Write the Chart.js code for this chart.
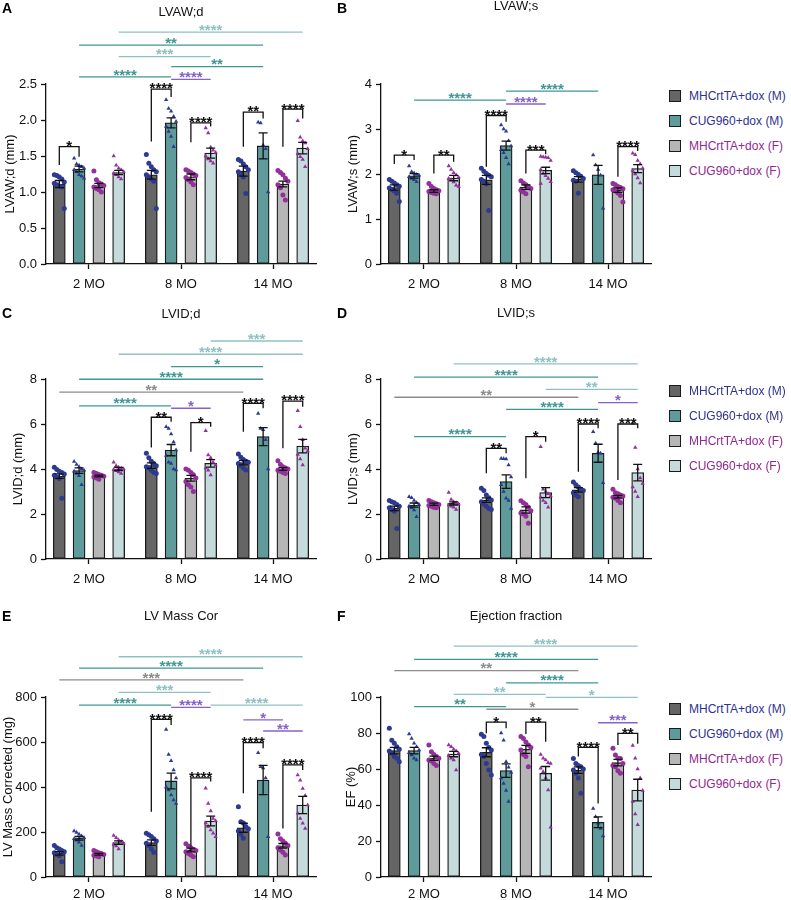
<!DOCTYPE html>
<html><head><meta charset="utf-8">
<script src="https://cdn.jsdelivr.net/npm/chart.js@4.4.0/dist/chart.umd.min.js"></script>
<style>
html,body{margin:0;padding:0;background:#fff;width:791px;height:900px;overflow:hidden;position:relative;font-family:'Liberation Sans',Arial,sans-serif;}
canvas{position:absolute;}
.letter{position:absolute;font-weight:bold;font-size:14px;line-height:14px;color:#000;}
.lg{position:absolute;left:669px;height:14px;white-space:nowrap;font-size:12px;line-height:12px;}
.lg i{position:absolute;left:0;top:0;width:12px;height:12px;box-sizing:border-box;border:1.4px solid #1a1a1a;}
.lg span{position:absolute;left:20px;top:0px;}
</style></head>
<body>
<script>
const FONT = "'Liberation Sans', Arial, sans-serif";
const categories = ['2 MO', '8 MO', '14 MO'];
const seriesNames = ['MHCrtTA+dox (M)', 'CUG960+dox (M)', 'MHCrtTA+dox (F)', 'CUG960+dox (F)'];

// ---- Panel A: LVAW;d (series rows: MHC M, CUG M, MHC F, CUG F; columns: 2, 8, 14 MO)
const lvawdMean = [[1.11, 1.24, 1.29], [1.32, 1.96, 1.64], [1.09, 1.21, 1.11], [1.27, 1.54, 1.61]];
const lvawdSem = [[0.05, 0.06, 0.07], [0.04, 0.07, 0.18], [0.03, 0.04, 0.04], [0.03, 0.07, 0.08]];
const lvawdPts = [
  [[1.24,1.23,1.21,1.18,1.14,1.12,1.1,1.08,1.07,0.77],[1.52,1.4,1.35,1.31,1.28,1.24,1.21,1.18,1.15,0.77],[1.45,1.43,1.39,1.35,1.31,1.28,1.25,1.21,0.98]],
  [[1.47,1.39,1.37,1.35,1.33,1.31,1.28,1.24,1.22,1.19],[2.28,2.16,2.12,2.05,1.98,1.91,1.84,1.77,1.63],[1.97,1.96,1.65,1.6,1.0]],
  [[1.29,1.17,1.13,1.11,1.09,1.07,1.05,1.03,1.0],[1.31,1.29,1.27,1.25,1.23,1.2,1.17,1.14,1.1],[1.3,1.27,1.24,1.19,1.15,1.1,1.06,0.96,0.89]],
  [[1.5,1.37,1.33,1.31,1.28,1.26,1.24,1.21,1.18],[1.89,1.82,1.62,1.58,1.55,1.5,1.46,1.43,1.4],[1.99,1.76,1.71,1.68,1.6,1.53,1.49,1.45,1.35]]
];
// comparison lines: [series1, cat1, series2, cat2, level, label]
const lvawdLines = [[3,0,3,2,3.22,'****'],[1,0,1,2,3.04,'**'],[3,0,3,1,2.88,'***'],[1,1,1,2,2.74,'**'],[1,0,1,1,2.60,'****'],[1,1,3,1,2.565,'****']];
// brackets: [cat, seriesLeft, seriesRight, top, leftLegEnd, rightLegEnd, label]
const lvawdBrackets = [[0,0,1,1.63,1.375,1.49,'*'],[1,0,1,2.43,1.70,2.32,'****'],[1,2,3,1.96,1.69,1.91,'****'],[2,0,1,2.11,1.63,2.02,'**'],[2,2,3,2.15,1.63,2.02,'****']];

// ---- Panel B: LVAW;s
const lvawsMean = [[1.70, 1.87, 1.88], [1.96, 2.63, 1.98], [1.62, 1.71, 1.64], [1.91, 2.08, 2.12]];
const lvawsSem = [[0.06, 0.10, 0.06], [0.05, 0.10, 0.21], [0.03, 0.05, 0.05], [0.06, 0.07, 0.09]];
const lvawsPts = [
  [[1.88,1.84,1.8,1.76,1.73,1.69,1.66,1.62,1.57,1.39],[2.13,2.06,2.01,1.97,1.94,1.88,1.84,1.78,1.19],[2.07,2.03,1.99,1.95,1.9,1.86,1.84,1.57]],
  [[2.18,2.05,2.02,1.99,1.97,1.94,1.9,1.87,1.83],[3.09,3.0,2.95,2.74,2.62,2.54,2.47,2.36,2.22],[2.42,2.2,2.1,1.97,1.24]],
  [[1.79,1.72,1.68,1.65,1.63,1.61,1.59,1.57,1.56],[1.85,1.8,1.76,1.72,1.68,1.64,1.6,1.56],[1.79,1.76,1.72,1.7,1.67,1.65,1.62,1.58,1.52,1.38]],
  [[2.18,2.1,2.03,1.98,1.93,1.9,1.87,1.82,1.75,1.72],[2.39,2.38,2.37,2.36,2.3,2.1,2.01,1.96,1.9,1.83,1.79],[2.46,2.43,2.3,2.22,2.13,2.08,2.0,1.91,1.8]]
];
const lvawsLines = [[1,1,1,2,3.84,'****'],[1,0,1,1,3.64,'****'],[1,1,3,1,3.556,'****']];
const lvawsBrackets = [[0,0,1,2.42,2.22,2.31,'*'],[0,2,3,2.42,2.01,2.27,'**'],[1,0,1,3.30,2.16,3.16,'****'],[1,2,3,2.53,2.01,2.44,'***'],[2,2,3,2.61,1.94,2.51,'****']];

// ---- Panel C: LVID;d
const lviddMean = [[3.68, 4.15, 4.28], [3.93, 4.84, 5.44], [3.69, 3.59, 4.00], [4.00, 4.25, 5.02]];
const lviddSem = [[0.10, 0.12, 0.10], [0.12, 0.25, 0.40], [0.04, 0.13, 0.06], [0.07, 0.17, 0.30]];
const lviddPts = [
  [[4.08,3.98,3.9,3.84,3.78,3.72,3.65,3.58,2.7],[4.7,4.5,4.35,4.25,4.15,4.1,4.05,3.95,3.85,3.8],[4.67,4.52,4.42,4.35,4.3,4.25,4.15,4.05,3.96]],
  [[4.33,4.2,4.1,4.0,3.95,3.9,3.8,3.7,3.3],[5.88,5.8,5.56,5.2,4.85,4.6,4.3,4.25,4.0,3.96],[6.47,5.8,5.75,5.3,4.0]],
  [[3.85,3.8,3.76,3.72,3.68,3.64,3.6,3.55],[4.0,3.95,3.85,3.75,3.6,3.45,3.3,3.2,3.0],[4.37,4.2,4.1,4.05,4.0,3.95,3.9,3.85,3.8]],
  [[4.3,4.15,4.08,4.03,4.0,3.98,3.92,3.87,3.8],[5.7,4.62,4.5,4.3,4.18,4.05,3.95,3.73],[6.59,5.88,5.3,4.92,4.8,4.65,4.45,4.18]]
];
const lviddLines = [[3,1,3,2,9.69,'***'],[3,0,3,2,9.10,'****'],[1,1,1,2,8.55,'*'],[1,0,1,2,7.99,'****'],[0,0,0,2,7.42,'**'],[1,0,1,1,6.81,'****'],[1,1,3,1,6.70,'*']];
const lviddBrackets = [[1,0,1,6.3,4.96,6.1,'**'],[1,2,3,6.06,4.77,5.88,'*'],[2,0,1,6.92,5.66,6.7,'****'],[2,2,3,7.02,4.92,6.77,'****']];

// ---- Panel D: LVID;s
const lvidsMean = [[2.25, 2.62, 3.07], [2.40, 3.44, 4.70], [2.43, 2.18, 2.77], [2.47, 2.95, 3.84]];
const lvidsSem = [[0.10, 0.10, 0.10], [0.09, 0.30, 0.40], [0.05, 0.14, 0.06], [0.07, 0.22, 0.37]];
const lvidsPts = [
  [[2.6,2.55,2.5,2.42,2.35,2.28,2.2,2.12,1.36],[3.14,3.05,2.85,2.72,2.62,2.55,2.45,2.35,2.25,2.2],[3.42,3.3,3.2,3.1,3.05,2.95,2.85,2.77]],
  [[2.77,2.72,2.6,2.5,2.42,2.35,2.28,2.18,1.88],[4.47,4.46,4.45,4.18,3.65,3.3,3.0,2.7,2.6,2.25],[5.66,5.14,4.75,4.7,3.39]],
  [[2.6,2.55,2.5,2.46,2.42,2.38,2.34,2.3,2.28],[2.59,2.5,2.42,2.3,2.15,2.05,2.0,1.9,1.59],[3.1,2.95,2.9,2.85,2.8,2.75,2.7,2.6,2.5]],
  [[2.96,2.65,2.55,2.5,2.45,2.4,2.35,2.3,2.2],[4.99,3.1,3.0,2.9,2.8,2.75,2.6,2.5,2.3],[6.03,4.96,4.0,3.6,3.36,3.2,3.0,2.77]]
];
const lvidsLines = [[3,0,3,2,8.67,'****'],[1,0,1,2,8.08,'****'],[3,1,3,2,7.54,'**'],[0,0,0,2,7.19,'**'],[1,2,3,2,6.95,'*'],[1,1,1,2,6.65,'****'],[1,0,1,1,5.44,'****']];
const lvidsBrackets = [[1,0,1,4.92,3.81,4.7,'**'],[1,2,3,5.44,3.59,5.21,'*'],[2,0,1,6.0,3.88,5.81,'****'],[2,2,3,6.0,3.51,5.81,'***']];

// ---- Panel E: LV Mass Cor
const lvmMean = [[105, 153, 219], [172, 427, 431], [101, 120, 139], [153, 249, 320]];
const lvmSem = [[8, 12, 20], [8, 35, 65], [4, 8, 10], [8, 22, 38]];
const lvmPts = [
  [[140,130,125,118,112,108,100,95,68],[195,188,180,170,160,150,140,125,110],[312,246,240,225,215,205,190,172]],
  [[205,198,190,182,175,170,163,155,140],[656,545,517,476,440,400,387,364,342,327],[552,490,485,440,179]],
  [[118,112,108,104,100,97,93,90],[148,138,130,122,118,112,105,98,90],[191,170,160,150,140,130,120,110,98]],
  [[185,175,165,158,150,145,138,125],[394,327,293,260,250,240,225,209,195,179],[453,430,393,362,320,283,260,239,216]]
];
const lvmLines = [[3,0,3,2,979,'****'],[1,0,1,2,928,'****'],[0,0,0,2,876,'***'],[3,0,3,1,821,'***'],[1,0,1,1,764,'****'],[1,1,3,1,754,'****'],[3,1,3,2,764,'****'],[0,2,2,2,698,'*'],[1,2,3,2,649,'**']];
const lvmBrackets = [[1,0,1,701,290,676,'****'],[1,2,3,441,135,424,'****'],[2,0,1,597,372,572,'****'],[2,2,3,498,216,476,'****']];

// ---- Panel F: Ejection fraction
const efMean = [[70.2, 69.3, 59.4], [70.2, 59.1, 30.4], [66.0, 70.9, 63.5], [68.3, 57.6, 48.3]];
const efSem = [[1.8, 2.5, 1.8], [1.8, 3.8, 3.0], [1.2, 2.2, 1.8], [1.5, 3.8, 6.0]];
const efPts = [
  [[82.6,76,74.3,72.4,71,70,68.7,67,66,64],[79.3,78,74.3,72,70.6,68,66.9,63.1,59.4,56.7],[65.9,63,62,61.3,60,59.4,57.6,55,46.5]],
  [[79.4,77,74.3,72.4,70.6,69,67.8,66,65],[80,76,64,61,58,55,52,48,42],[38.1,33.5,29.8,27,22.8]],
  [[73.3,69.6,68,67,66,65,64.5,63,62],[78,77,75,73.3,72,70.6,68,66.9,61.3],[71.5,67.8,66,65.9,63.1,62,61.3,59,57.6]],
  [[73.3,72.4,71,70,68.7,67.5,66,65,59.4],[68,66,65,63.5,63,60.4,58.5,55,48.3,27.6],[73,66,60,55,48,42,35,29]]
];
const efLines = [[3,0,3,2,128.3,'****'],[1,0,1,2,120.9,'****'],[0,0,0,2,114.6,'**'],[1,1,1,2,107.9,'****'],[3,0,3,1,101.5,'**'],[3,1,3,2,99.8,'*'],[1,0,1,1,94.6,'**'],[0,1,0,2,93.2,'*'],[1,2,3,2,85.7,'***']];
const efBrackets = [[1,0,1,86,79.8,82.6,'*'],[1,2,3,86,79.4,75.2,'**'],[2,0,1,72,66.9,40.9,'****'],[2,2,3,79.8,73.3,74,'**']];

// ---- styles
const barColors = ['#656565', '#5e9b9a', '#b6b6b6', '#c4dadb'];
const pointColors = ['#2c3a92', '#2c3a92', '#93309b', '#93309b'];
const pointShapes = ['circle', 'triangle', 'circle', 'triangle'];
const lineColors = ['#8c8c8c', '#3f9794', '#b0b0b0', '#8fc1c3'];
const mfColor = '#8462c8';
const legendText = ['#2e3192', '#2e3192', '#92278f', '#92278f'];
const SLOT = 0.215;
const xOf = (c, s) => c + (s - 1.5) * SLOT;

const panels = [
  {letter:'A', left:0, top:0, h:300, plotTop:84, titleC:12.5, yPad:3, xPad:8, title:'LVAW;d', yTitle:'LVAW;d (mm)', min:0, max:2.5, step:0.5, dec:1, mean:lvawdMean, sem:lvawdSem, pts:lvawdPts, lines:lvawdLines, brackets:lvawdBrackets},
  {letter:'B', left:335, top:0, h:300, plotTop:84, titleC:6.5, yPad:11, xPad:8, title:'LVAW;s', yTitle:'LVAW;s (mm)', min:0, max:4, step:1, dec:0, mean:lvawsMean, sem:lvawsSem, pts:lvawsPts, lines:lvawsLines, brackets:lvawsBrackets},
  {letter:'C', left:0, top:290, h:305, plotTop:89, titleC:24, yPad:11, xPad:8, title:'LVID;d', yTitle:'LVID;d (mm)', min:0, max:8, step:2, dec:0, mean:lviddMean, sem:lviddSem, pts:lviddPts, lines:lviddLines, brackets:lviddBrackets},
  {letter:'D', left:335, top:290, h:305, plotTop:89, titleC:23, yPad:10.5, xPad:8, title:'LVID;s', yTitle:'LVID;s (mm)', min:0, max:8, step:2, dec:0, mean:lvidsMean, sem:lvidsSem, pts:lvidsPts, lines:lvidsLines, brackets:lvidsBrackets},
  {letter:'E', left:0, top:600, h:313, plotTop:97, titleC:16, yPad:0.5, xPad:5, title:'LV Mass Cor', yTitle:'LV Mass Corrected (mg)', min:0, max:800, step:200, dec:0, mean:lvmMean, sem:lvmSem, pts:lvmPts, lines:lvmLines, brackets:lvmBrackets},
  {letter:'F', left:335, top:600, h:313, plotTop:97, titleC:16, yPad:9, xPad:5, title:'Ejection fraction', yTitle:'EF (%)', min:0, max:100, step:20, dec:0, mean:efMean, sem:efSem, pts:efPts, lines:efLines, brackets:efBrackets}
];
const letterTops = {A:1, B:1, C:306, D:306, E:609, F:609};
const legendTops = [0, 295, 613];

function annot(p) {
  return {
    id: 'annot',
    afterDatasetsDraw(chart) {
      const ctx = chart.ctx, xs = chart.scales.x, ys = chart.scales.y;
      const X = (c, s) => xs.getPixelForValue(xOf(c, s));
      const Y = v => ys.getPixelForValue(v);
      ctx.save();
      ctx.lineWidth = 1.3;
      ctx.lineJoin = 'miter';
      ctx.strokeStyle = '#111';
      for (let s = 0; s < 4; s++) for (let c = 0; c < 3; c++) {
        const x = X(c, s), m = p.mean[s][c], e = p.sem[s][c];
        const y1 = Y(m + e), y2 = Y(m - e);
        ctx.beginPath();
        ctx.moveTo(x, y1); ctx.lineTo(x, y2);
        ctx.moveTo(x - 4.5, y1); ctx.lineTo(x + 4.5, y1);
        ctx.moveTo(x - 4.5, y2); ctx.lineTo(x + 4.5, y2);
        ctx.stroke();
      }
      ctx.font = 'bold 15px ' + FONT;
      ctx.textAlign = 'center';
      ctx.textBaseline = 'alphabetic';
      p.brackets.forEach(([c, sl, sr, top, lb, rb, lab]) => {
        const xl = X(c, sl), xr = X(c, sr), yt = Y(top);
        ctx.strokeStyle = '#111';
        ctx.beginPath();
        ctx.moveTo(xl, Y(lb)); ctx.lineTo(xl, yt); ctx.lineTo(xr, yt); ctx.lineTo(xr, Y(rb));
        ctx.stroke();
        ctx.fillStyle = '#111';
        ctx.fillText(lab, (xl + xr) / 2, yt + 4.4);
      });
      p.lines.forEach(([s1, c1, s2, c2, v, lab]) => {
        const col = s1 === s2 ? lineColors[s1] : mfColor;
        const x1 = X(c1, s1), x2 = X(c2, s2), y = Y(v);
        ctx.strokeStyle = col;
        ctx.beginPath(); ctx.moveTo(x1, y); ctx.lineTo(x2, y); ctx.stroke();
        ctx.fillStyle = col;
        ctx.fillText(lab, (x1 + x2) / 2, y + 2.7);
      });
      ctx.restore();
    }
  };
}

function makePanel(p) {
  const cv = document.createElement('canvas');
  cv.width = 330; cv.height = p.h;
  cv.style.left = p.left + 'px'; cv.style.top = p.top + 'px';
  cv.style.width = '330px'; cv.style.height = p.h + 'px';
  document.body.appendChild(cv);
  const datasets = [];
  for (let s = 0; s < 4; s++) {
    datasets.push({
      type: 'bar', label: seriesNames[s],
      data: p.mean[s].map((v, c) => ({x: xOf(c, s), y: v})),
      backgroundColor: barColors[s], borderColor: '#1a1a1a', borderWidth: 1.3, borderSkipped: false,
      barThickness: 12, maxBarThickness: 12, grouped: false, order: 2
    });
  }
  for (let s = 0; s < 4; s++) {
    const d = [];
    p.pts[s].forEach((arr, c) => arr.forEach((v, k) => d.push({x: xOf(c, s) + ((k % 5) - 2) * 0.027, y: v})));
    datasets.push({
      type: 'scatter', label: seriesNames[s] + ' points', data: d,
      pointStyle: pointShapes[s], pointRadius: 2.5, backgroundColor: pointColors[s],
      borderColor: pointColors[s], borderWidth: 0, order: 1
    });
  }
  const tickFont = {family: FONT, size: 13};
  new Chart(cv, {
    type: 'bar',
    data: {datasets},
    options: {
      responsive: false, animation: false, events: [],
      layout: {padding: {left: 0, right: 14, top: 0, bottom: 0}},
      plugins: {
        legend: {display: false}, tooltip: {enabled: false},
        title: {display: true, text: p.title, fullSize: false, color: '#111',
          font: {family: FONT, size: 13, weight: 'normal', lineHeight: 1},
          padding: {top: p.titleC - 6.5, bottom: p.plotTop - 13 - (p.titleC - 6.5)}}
      },
      scales: {
        x: {
          type: 'linear', min: -0.467, max: 2.467, offset: false,
          afterBuildTicks: sc => { sc.ticks = categories.map((_, i) => ({value: i})); },
          afterFit: sc => { sc.height = 36; },
          ticks: {callback: v => categories[v], font: tickFont, color: '#111', padding: p.xPad, autoSkip: false, maxRotation: 0},
          grid: {drawOnChartArea: false, drawTicks: true, tickLength: 5, tickColor: '#111', tickWidth: 1.3, offset: false},
          border: {display: true, color: '#111', width: 1.3}
        },
        y: {
          type: 'linear', min: p.min, max: p.max,
          afterFit: sc => { sc.width = 46; },
          ticks: {stepSize: p.step, callback: v => Number(v).toFixed(p.dec), font: tickFont, color: '#111', padding: 4},
          grid: {drawOnChartArea: false, drawTicks: true, tickLength: 5, tickColor: '#111', tickWidth: 1.3},
          border: {display: true, color: '#111', width: 1.3},
          title: {display: true, text: p.yTitle, color: '#111', font: {family: FONT, size: 13}, padding: {top: p.yPad, bottom: 0}}
        }
      }
    },
    plugins: [annot(p)]
  });
  const L = document.createElement('div');
  L.className = 'letter'; L.textContent = p.letter;
  L.style.left = (p.left + 2) + 'px'; L.style.top = letterTops[p.letter] + 'px';
  document.body.appendChild(L);
}

panels.forEach(makePanel);

legendTops.forEach(off => {
  seriesNames.forEach((name, s) => {
    const row = document.createElement('div');
    row.className = 'lg';
    row.style.top = (off + 96 + s * 25 - 6) + 'px';
    const sq = document.createElement('i'); sq.style.background = barColors[s];
    const tx = document.createElement('span'); tx.textContent = name; tx.style.color = legendText[s];
    row.appendChild(sq); row.appendChild(tx);
    document.body.appendChild(row);
  });
});
</script>
</body></html>
